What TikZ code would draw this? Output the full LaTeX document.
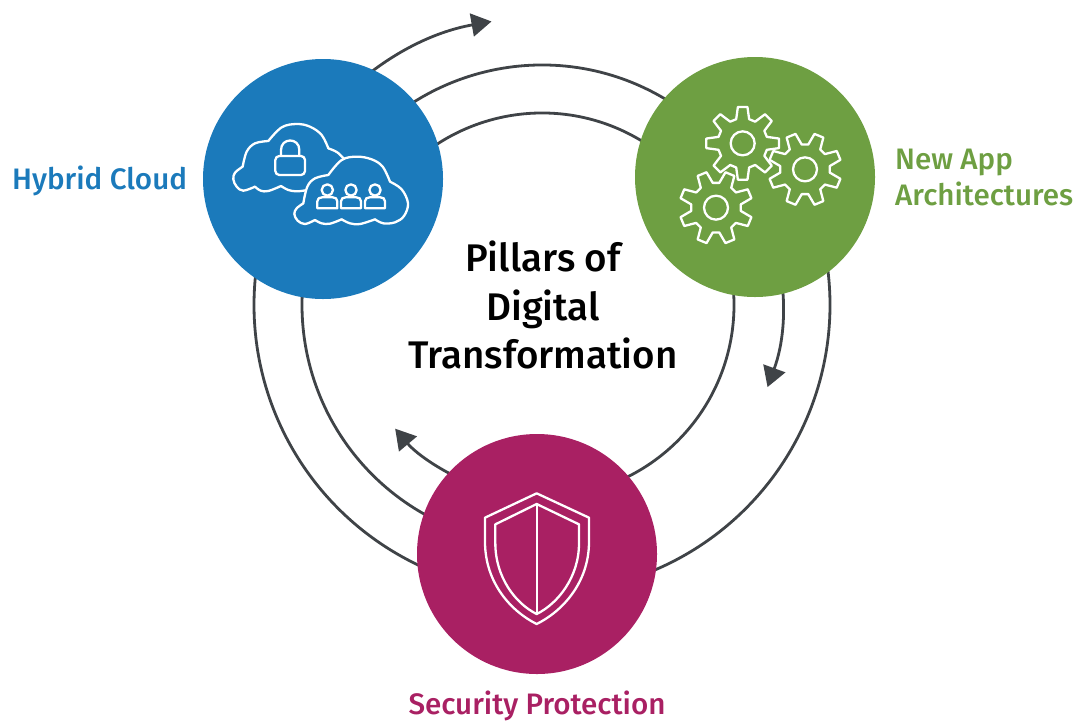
\documentclass[tikz,border=0pt]{standalone}
\usepackage{fontspec}
\setmainfont{Fira Sans}
\newfontfamily\medfont{Fira Sans Medium}
\usetikzlibrary{arrows.meta,calc}
\definecolor{cblue}{HTML}{1B7ABB}
\definecolor{cgreen}{HTML}{6E9F42}
\definecolor{cmag}{HTML}{A92063}
\definecolor{cline}{HTML}{3F4347}
\tikzset{
 ring/.style={draw=cline,line width=2.8pt},
 ringarrow/.style={ring,-{Triangle[length=20pt,width=23pt,fill=cline]}},
 pillar/.style={circle,minimum size=240pt,inner sep=0pt,draw=none},
 icon/.style={draw=white,line width=2.3pt,line join=round,line cap=round},
 pillartext/.style={font=\medfont\fontsize{29.6}{36}\selectfont,align=left,inner sep=0pt},
 titletext/.style={font=\medfont\fontsize{38.5}{48.5}\selectfont,align=center,inner sep=0pt,text=black},
}
\newcommand{\gearicon}[3]{%
 \draw[icon,shift={(#1,#2)}] (#3-15:75)
  \foreach \a in {0,45,...,315}{ -- (#3+\a-15:75) -- (#3+\a-7.5:110) -- (#3+\a+7.5:110) -- (#3+\a+15:75)} -- cycle;
 \draw[icon,shift={(#1,#2)}] (0,0) circle[radius=36];
}
\newcommand{\personicon}[1]{%
 \draw[icon,shift={(#1,0)}] (382,390) circle[radius=17];
 \draw[icon,shift={(#1,0)}] (352,445) -- (352,424) .. controls (352,416) and (358,412) .. (366,412) -- (398,412) .. controls (406,412) and (412,416) .. (412,424) -- (412,445) -- cycle;
}
\begin{document}
\begin{tikzpicture}[x=1pt,y=1pt]
\useasboundingbox (0,0) rectangle (1078,-721);
\coordinate (ctr) at (542,-305);
% rings
\draw[ring] ($(ctr)+(150:240pt)$) arc[start angle=150,end angle=30,radius=240pt];
\draw[ring] ($(ctr)+(150:192pt)$) arc[start angle=150,end angle=30,radius=192pt];
\draw[ringarrow] ($(ctr)+(150:288pt)$) arc[start angle=150,end angle=100.1,radius=288pt];
\draw[ring] ($(ctr)+(30:192pt)$) arc[start angle=30,end angle=-75,radius=192pt];
\draw[ringarrow] ($(ctr)+(30:240pt)$) arc[start angle=30,end angle=-20,radius=240pt];
\draw[ring] ($(ctr)+(30:288pt)$) arc[start angle=30,end angle=-75,radius=288pt];
\draw[ring] ($(ctr)+(150:288pt)$) arc[start angle=150,end angle=255,radius=288pt];
\draw[ring] ($(ctr)+(150:240pt)$) arc[start angle=150,end angle=255,radius=240pt];
\draw[ringarrow] ($(ctr)+(-110:192pt)$) arc[start angle=250,end angle=220.1,radius=192pt];
% pillars
\node[pillar,fill=cblue] (cloud) at (323,-179) {};
\node[pillar,fill=cgreen] (apps) at (755,-177) {};
\node[pillar,fill=cmag] (security) at (537,-554) {};
% cloud icon
\begin{scope}[shift={(200,-60)},x=0.33333pt,y=-0.33333pt]
 \draw[icon] plot[smooth,tension=0.6] coordinates {(432,297) (412,277) (385,265)};
 \draw[icon] plot[smooth,tension=0.6] coordinates {(385,265) (365,225) (330,200) (290,192) (245,202) (205,243)};
 \draw[icon] plot[smooth,tension=0.6] coordinates {(205,243) (165,250) (140,275) (128,320)};
 \draw[icon] plot[smooth,tension=0.6] coordinates {(128,320) (105,338) (100,358) (110,380) (130,392) (165,380)};
 \draw[icon] plot[smooth,tension=0.6] coordinates {(165,380) (182,392) (205,393) (243,378)};
 \draw[icon] plot[smooth,tension=0.6] coordinates {(243,378) (265,390) (290,394) (316,391)};
 \draw[icon,rounded corners=4pt] (226,288) rectangle (315,345);
 \draw[icon] (243,288) -- (243,270) .. controls (243,232) and (298,232) .. (298,270) -- (298,288);
 \draw[icon] plot[smooth,tension=0.6] coordinates {(570,365) (548,320) (515,298) (470,290) (425,300) (385,345)};
 \draw[icon] plot[smooth,tension=0.6] coordinates {(385,345) (345,355) (322,380) (310,430)};
 \draw[icon] plot[smooth,tension=0.6] coordinates {(310,430) (290,445) (283,462) (293,482) (315,492) (345,480)};
 \draw[icon] plot[smooth,tension=0.6] coordinates {(345,480) (365,490) (390,491) (425,478)};
 \draw[icon] plot[smooth,tension=0.6] coordinates {(425,478) (450,490) (480,492) (525,478)};
 \draw[icon] plot[smooth,tension=0.6] coordinates {(525,478) (550,490) (585,487) (612,468) (624,430) (605,388) (570,365)};
 \personicon{0}
 \personicon{71}
 \personicon{143}
\end{scope}
% gears icon
\begin{scope}[shift={(630,-60)},x=0.33333pt,y=-0.33333pt]
 \gearicon{338}{250}{0}
 \gearicon{525}{328}{22.5}
 \gearicon{258}{443}{22.5}
\end{scope}
% shield icon
\begin{scope}[shift={(415,-430)},x=0.33333pt,y=-0.33333pt]
 \draw[icon] (365,190) -- (522,263) -- (522,335) .. controls (522,460) and (440,545) .. (365,582)
   .. controls (290,545) and (210,460) .. (210,335) -- (210,263) -- cycle;
 \draw[icon] (365,222) -- (492,283) -- (492,340) .. controls (492,440) and (430,520) .. (365,552)
   .. controls (300,520) and (241,440) .. (241,340) -- (241,283) -- cycle;
 \draw[icon] (367,222) -- (367,552);
\end{scope}
% texts
\node[titletext] (title) at (543,-305) {Pillars of\\Digital\\Transformation};
\node[pillartext,text=cblue,anchor=base west] (hybrid) at (12,-189) {Hybrid Cloud};
\node[pillartext,text=cgreen,anchor=west] (newapp) at (895,-177.5) {New App\\Architectures};
\node[pillartext,text=cmag,anchor=base] (sec) at (537,-714.5) {Security Protection};
\end{tikzpicture}
\end{document}
